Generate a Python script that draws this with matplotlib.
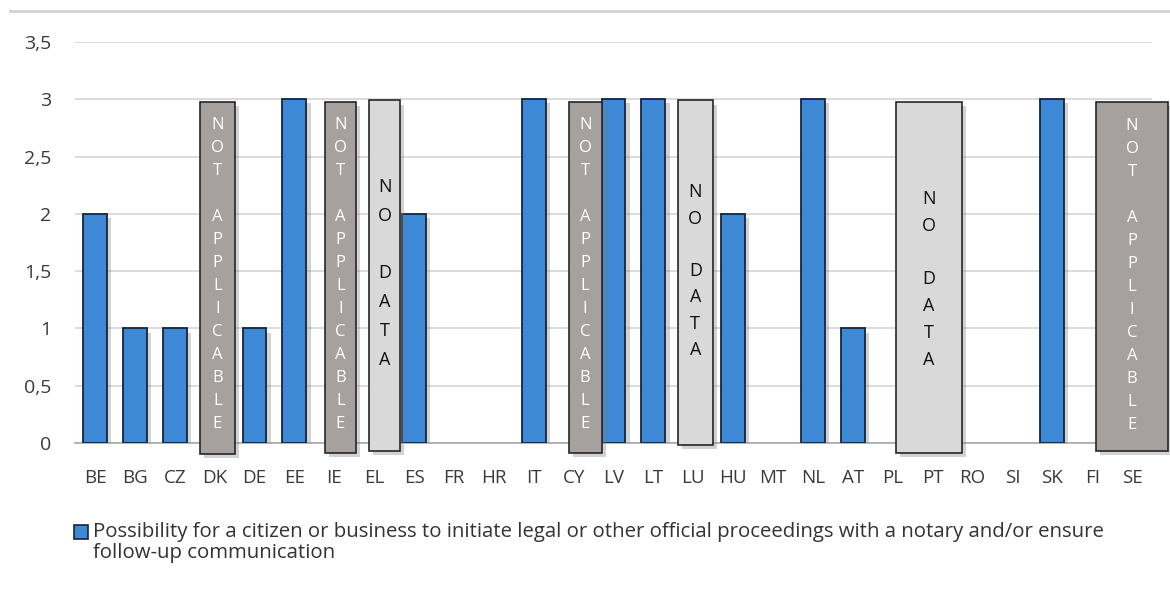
import numpy as np
import matplotlib
matplotlib.use("Agg")
import matplotlib.pyplot as plt
from matplotlib.patches import Rectangle
from matplotlib.lines import Line2D
import matplotlib.patheffects as pe

# data
countries = ["BE", "BG", "CZ", "DK", "DE", "EE", "IE", "EL", "ES", "FR", "HR", "IT", "CY",
             "LV", "LT", "LU", "HU", "MT", "NL", "AT", "PL", "PT", "RO", "SI", "SK", "FI", "SE"]
values = [2, 1, 1, 0, 1, 3, 0, 0, 2, 0, 0, 3, 0,
          3, 3, 0, 2, 0, 3, 1, 0, 0, 0, 0, 3, 0, 0]
series_name = ("Possibility for a citizen or business to initiate legal or other official "
               "proceedings with a notary and/or ensure\nfollow-up communication")
not_applicable = ["DK", "IE", "CY", "SE"]
no_data = ["EL", "LU", "PT"]
yticks = [0, 0.5, 1, 1.5, 2, 2.5, 3, 3.5]
ytick_labels = ["0", "0,5", "1", "1,5", "2", "2,5", "3", "3,5"]

# hand-drawn overlay boxes in the original: (shift from category, width, top, bottom)
box_layout = {
    "DK": (0.07, 0.88, 2.975, -0.095),
    "IE": (0.15, 0.78, 2.975, -0.085),
    "EL": (0.26, 0.78, 2.99, -0.07),
    "CY": (0.29, 0.83, 2.975, -0.085),
    "LU": (0.05, 0.88, 2.99, -0.015),
    "PT": (-0.10, 1.65, 2.975, -0.085),
    "SE": (0.00, 1.80, 2.975, -0.07),
}
# vertical centre and letter spacing of the stacked text
text_layout = {
    "DK": (1.47, 1.58), "IE": (1.47, 1.58), "CY": (1.47, 1.58), "SE": (1.46, 1.58),
    "EL": (1.48, 1.78), "LU": (1.50, 1.59), "PT": (1.43, 1.63),
}

W, H = 1170, 589
fig = plt.figure(figsize=(W / 100, H / 100), dpi=100)
ax = fig.add_axes([75 / W, 1 - 443 / H, (1152 - 75) / W, (443 - 42) / H])

x = np.arange(len(countries))
shadow = [pe.SimplePatchShadow(offset=(3, -3), shadow_rgbFace="#808080", alpha=0.35), pe.Normal()]
bars = ax.bar(x, values, width=0.6, color="#3d89d6", edgecolor="#15253a", linewidth=1.3, zorder=3)
for b, v in zip(bars, values):
    if v > 0:
        b.set_path_effects(shadow)
    else:
        b.set_visible(False)

ax.set_xlim(-0.5, len(countries) - 0.5)
ax.set_ylim(0, 3.5)
ax.set_yticks(yticks)
ax.set_yticklabels(ytick_labels)
ax.set_xticks(x)
ax.set_xticklabels(countries)
ax.tick_params(axis="both", length=0, colors="#3a3a3a")
ax.tick_params(axis="y", pad=17, labelsize=14)
ax.tick_params(axis="x", pad=19, labelsize=13.5)
for lab in ax.get_xticklabels() + ax.get_yticklabels():
    lab.set_fontfamily(["Open Sans", "DejaVu Sans"])
ax.grid(axis="y", color="#d6d6d6", linewidth=1.2, zorder=0)
ax.set_axisbelow(True)
for s in ["top", "right", "left"]:
    ax.spines[s].set_visible(False)
ax.spines["bottom"].set_color("#a8a8a8")
ax.spines["bottom"].set_linewidth(1.2)

# overlay boxes
for c in not_applicable + no_data:
    i = countries.index(c)
    dx, w, top, bot = box_layout[c]
    na = c in not_applicable
    rect = Rectangle((i + dx - w / 2, bot), w, top - bot,
                     facecolor="#a6a19f" if na else "#d9d9da",
                     edgecolor="#262626", linewidth=1.2, zorder=5, clip_on=False)
    rect.set_path_effects(shadow)
    ax.add_patch(rect)
    yc, ls = text_layout[c]
    txt = "\n".join("NOT APPLICABLE") if na else "\n".join("NO DATA")
    txt = txt.replace("\n \n", "\n\n")
    ax.text(i + dx, yc, txt, ha="center", va="center", zorder=6,
            color="white" if na else "#111111", fontsize=12 if na else 13,
            linespacing=ls, family=["Open Sans", "DejaVu Sans"])

# legend drawn like the original
fig.add_artist(Rectangle((74 / W, 1 - 539 / H), 14 / W, 14 / H, facecolor="#3d89d6",
                         edgecolor="#15253a", linewidth=1.2, transform=fig.transFigure))
fig.text(93 / W, 1 - 522 / H, series_name, ha="left", va="top", fontsize=14.7,
         color="#333333", linespacing=1.05, family=["Open Sans", "DejaVu Sans"])

# line at the very top
fig.add_artist(Line2D([10 / W, 1], [1 - 11 / H, 1 - 11 / H], color="#d2d2d2", linewidth=2,
                      transform=fig.transFigure))

fig.savefig("out.png", dpi=100)
